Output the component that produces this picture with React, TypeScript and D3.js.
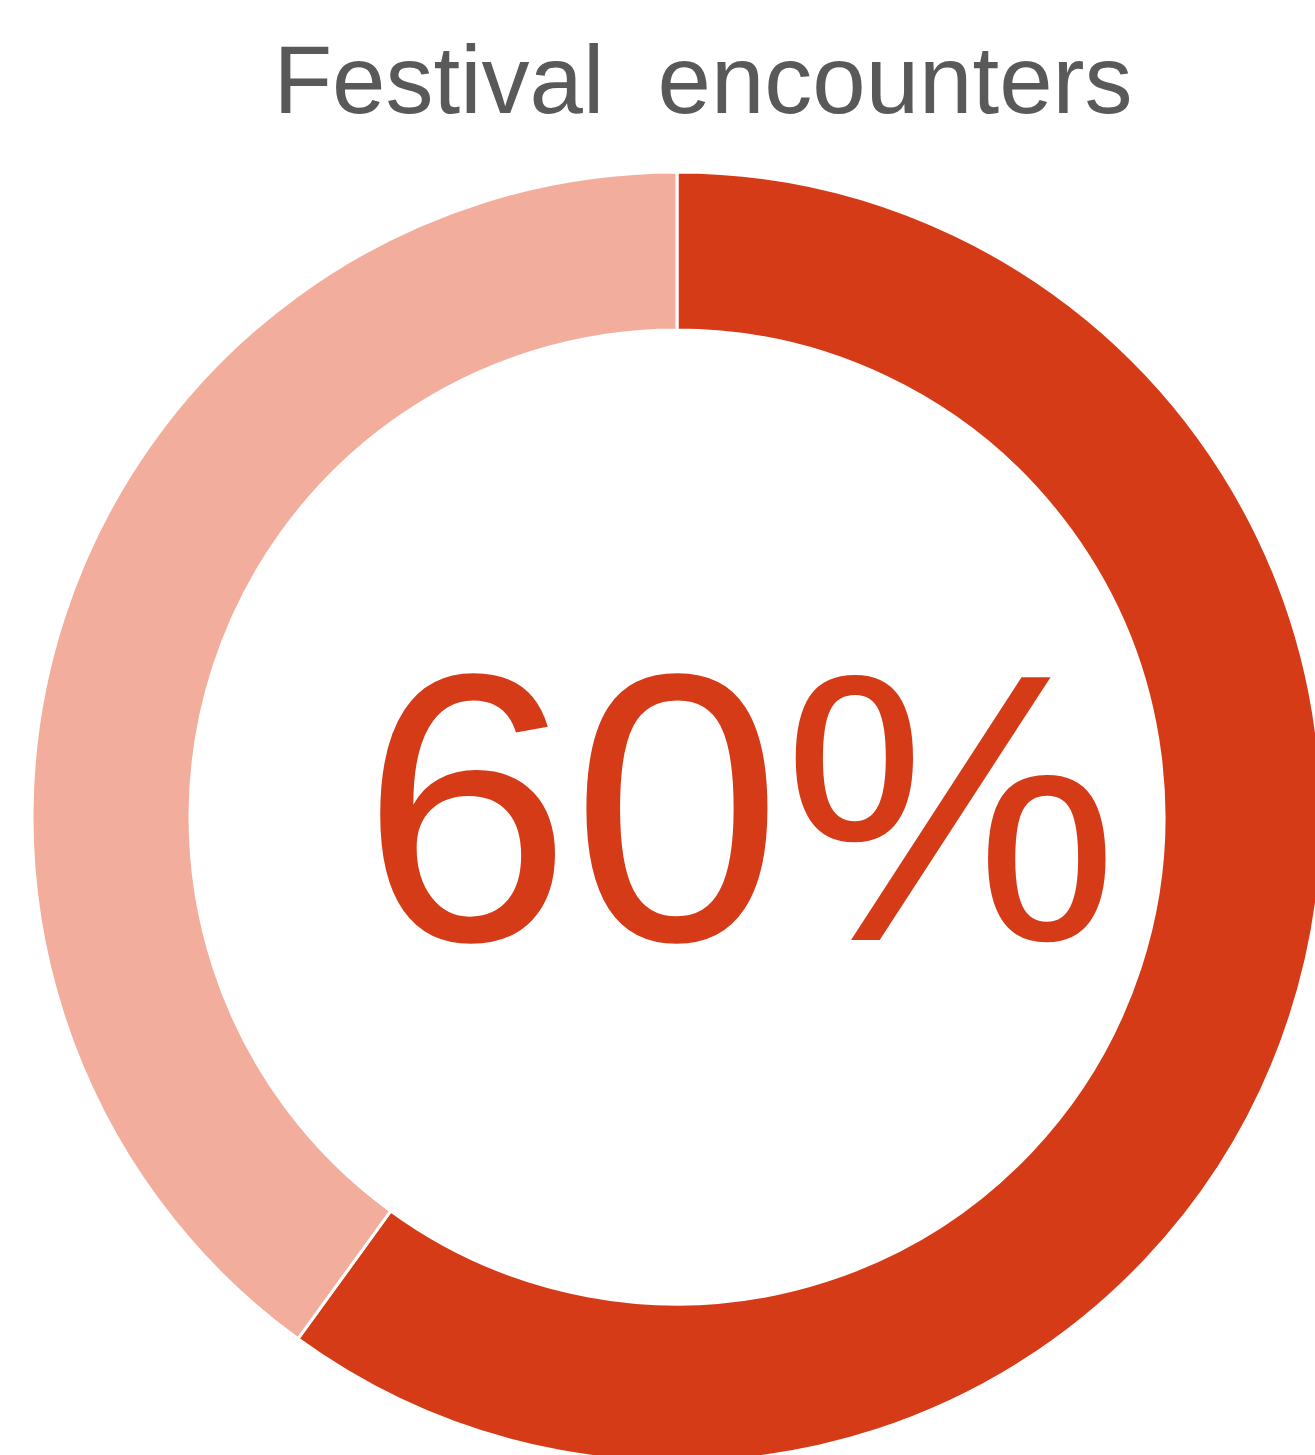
import { useEffect, useRef } from 'react'
import * as d3 from 'd3'

const categories = ['Yes', 'No']
const values = [60, 40]
const COLORS = ['#d63b18', '#f3ad9c']
const TITLE = 'Festival\u00a0\u00a0encounters'
const CENTER_LABEL = '60%'

const W = 1315
const H = 1455
const CX = 677
const CY = 817
const R_OUT = 645
const R_IN = 487

export default function App() {
  const svgRef = useRef<SVGSVGElement>(null)

  useEffect(() => {
    if (!svgRef.current) return
    const svg = d3.select(svgRef.current)
    svg.selectAll('*').remove()

    const data = categories.map((c, i) => ({ cat: c, value: values[i], color: COLORS[i] }))
    const pie = d3.pie<{ cat: string; value: number; color: string }>()
      .value(d => d.value)
      .sort(null)
    const arc = d3.arc<d3.PieArcDatum<{ cat: string; value: number; color: string }>>()
      .innerRadius(R_IN)
      .outerRadius(R_OUT)

    const g = svg.append('g').attr('transform', `translate(${CX},${CY})`)
    g.selectAll('path')
      .data(pie(data))
      .join('path')
      .attr('d', arc)
      .attr('fill', d => d.data.color)
      .attr('stroke', '#ffffff')
      .attr('stroke-width', 3)
      .attr('stroke-linejoin', 'round')

    svg.append('text')
      .attr('x', 703).attr('y', 113)
      .attr('text-anchor', 'middle')
      .style('font-family', '"Liberation Sans", Arial, sans-serif')
      .style('font-size', '96px')
      .style('fill', '#595959')
      .text(TITLE)

    // big centre label, slightly taller/narrower than plain Arial
    svg.append('text')
      .attr('x', 740).attr('y', 940)
      .attr('text-anchor', 'middle')
      .attr('textLength', 758)
      .attr('lengthAdjust', 'spacingAndGlyphs')
      .style('font-family', '"Liberation Sans", Arial, sans-serif')
      .style('font-size', '382px')
      .style('fill', COLORS[0])
      .text(CENTER_LABEL)
  }, [])

  return (
    <svg
      ref={svgRef}
      width={W}
      height={H}
      style={{ position: 'absolute', left: 0, top: 0, display: 'block', background: '#ffffff' }}
    />
  )
}
